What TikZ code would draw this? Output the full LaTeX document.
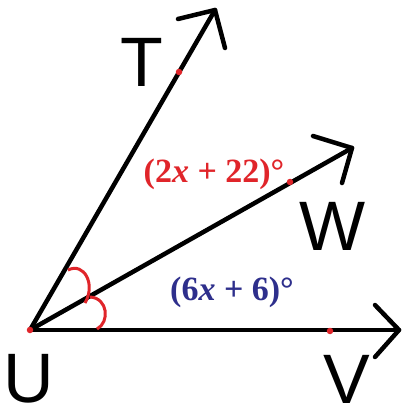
\documentclass[tikz,border=0pt]{standalone}
\usepackage{fontspec}
\setmainfont{Liberation Serif}
\newfontfamily\letterfont{Liberation Sans}
\definecolor{angred}{HTML}{E0252A}
\definecolor{angblue}{HTML}{2E2F8C}
\begin{document}
\begin{tikzpicture}[x=1pt,y=-1pt,
  ray/.style={line width=4.5pt,line cap=round,line join=round,black},
  pt/.style={circle,fill=angred,inner sep=0pt,minimum size=6.5pt},
  lbl/.style={font=\letterfont\fontsize{70}{80}\selectfont,anchor=base,inner sep=0pt,text depth=0pt,text height=50pt},
  meas/.style={font=\bfseries\fontsize{34}{40}\selectfont,inner sep=0pt},
  arcmark/.style={line width=3pt,angred}]
\useasboundingbox (0,0) rectangle (403,411);
% points
\coordinate (U) at (30,330);
\coordinate (Ttip) at (215,10);
\coordinate (Wtip) at (352,148);
\coordinate (Vtip) at (399,330);
\coordinate (Tw1) at (178,19);
\coordinate (Tw2) at (225,48);
\coordinate (Ww1) at (313,136);
\coordinate (Ww2) at (342,183);
\coordinate (Vw1) at (375,305);
\coordinate (Vw2) at (375,357);
% rays
\draw[ray] (U) -- (Ttip);
\draw[ray] (U) -- (Wtip);
\draw[ray] (U) -- (Vtip);
\draw[ray] (Tw1) -- (Ttip) -- (Tw2);
\draw[ray] (Ww1) -- (Wtip) -- (Ww2);
\draw[ray] (Vw1) -- (Vtip) -- (Vw2);
% angle marks
\draw[arcmark] (68,270) .. controls (84,262) and (96,284) .. (85,303);
\draw[arcmark] (90,297) .. controls (108,298) and (110,322) .. (97,329);
% dots
\node[pt] (Ud) at (U) {};
\node[pt] (Td) at (179,72) {};
\node[pt] (Wd) at (290,182) {};
\node[pt] (Vd) at (330,331) {};
% labels
\node[lbl] (Tl) at (142,87) {T};
\node[lbl] (Wl) at (333,250) {W};
\node[lbl] (Vl) at (347,403) {V};
\node[lbl] (Ul) at (29,402) {U};
\node[meas,text=angred] (a1) at (214,174) {(2\textit{x} + 22)°};
\node[meas,text=angblue] (a2) at (232,292) {(6\textit{x} + 6)°};
\end{tikzpicture}
\end{document}
